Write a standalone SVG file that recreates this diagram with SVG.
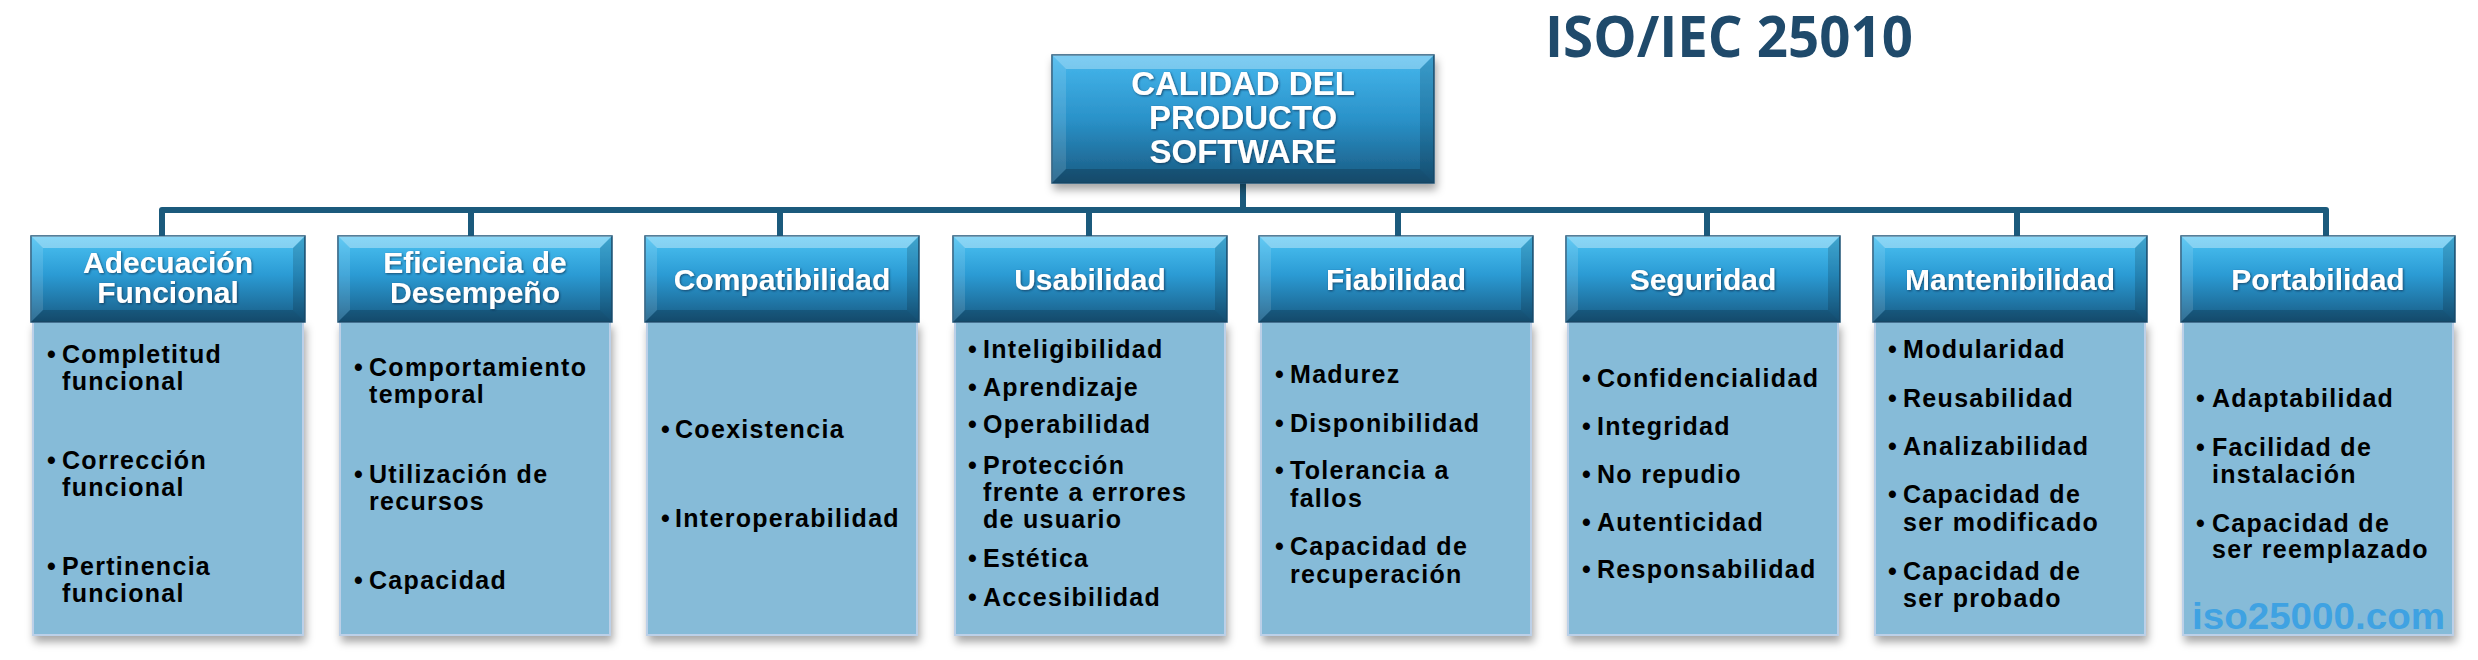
<svg xmlns="http://www.w3.org/2000/svg" width="2478" height="660" viewBox="0 0 2478 660">
<defs>
<linearGradient id="hg" x1="0" y1="0" x2="0" y2="1">
<stop offset="0" stop-color="#4cc3f3"/>
<stop offset="0.45" stop-color="#2b9bd4"/>
<stop offset="1" stop-color="#185b84"/>
</linearGradient>
<linearGradient id="tg" x1="0" y1="0" x2="0" y2="1">
<stop offset="0" stop-color="#46b8ee"/>
<stop offset="0.5" stop-color="#2a92c9"/>
<stop offset="1" stop-color="#1a5a82"/>
</linearGradient>
<filter id="sh" x="-10%" y="-10%" width="130%" height="130%">
<feDropShadow dx="2" dy="6" stdDeviation="4" flood-color="#000" flood-opacity="0.35"/>
</filter>
<filter id="ts" x="-10%" y="-20%" width="120%" height="150%">
<feDropShadow dx="1" dy="1" stdDeviation="1" flood-color="#0b2c47" flood-opacity="0.7"/>
</filter>
<g id="hdr">
<rect x="0" y="0" width="274" height="86" fill="url(#hg)" stroke="#1f5477" stroke-width="1.5"/>
<polygon points="0,0 274,0 262,12 12,12" fill="#ffffff" fill-opacity="0.35"/>
<polygon points="0,0 12,12 12,74 0,86" fill="#ffffff" fill-opacity="0.12"/>
<polygon points="274,0 262,12 262,74 274,86" fill="#000000" fill-opacity="0.15"/>
<polygon points="0,86 12,74 262,74 274,86" fill="#000000" fill-opacity="0.18"/>
</g>
</defs>
<style>
.ht{font-family:"Liberation Sans",Arial,sans-serif;font-weight:bold;font-size:30px;fill:#ffffff;text-anchor:middle}
.tt{font-family:"Liberation Sans",Arial,sans-serif;font-weight:bold;font-size:33px;fill:#ffffff;text-anchor:middle}
.it{font-family:"Liberation Sans",Arial,sans-serif;font-weight:bold;font-size:25px;fill:#000000;letter-spacing:1.3px}
.body{fill:#86bbd8;stroke:#bcd0e8;stroke-width:2}
.conn{fill:none;stroke:#1b5a7c;stroke-width:6;stroke-linejoin:round}
</style>
<rect width="2478" height="660" fill="#ffffff"/>
<text x="1545" y="57" font-family="'Open Sans','Liberation Sans',sans-serif" font-weight="bold" font-size="57" fill="#1f4a6b" textLength="368" lengthAdjust="spacingAndGlyphs">ISO/IEC 25010</text>
<g id="connectors">
<path class="conn" d="M1243,183 V210 M162,236 V210 H2326 V236 M471,210 V236 M780,210 V236 M1089,210 V236 M1398,210 V236 M1707,210 V236 M2017,210 V236"/>
</g>
<g id="root">
<g filter="url(#sh)">
<rect x="1052" y="55" width="382" height="128" fill="url(#tg)" stroke="#1f5477" stroke-width="1.5"/>
</g>
<polygon points="1052,55 1434,55 1420,69 1066,69" fill="#ffffff" fill-opacity="0.3"/>
<polygon points="1052,55 1066,69 1066,169 1052,183" fill="#ffffff" fill-opacity="0.12"/>
<polygon points="1434,55 1420,69 1420,169 1434,183" fill="#000000" fill-opacity="0.15"/>
<polygon points="1052,183 1066,169 1420,169 1434,183" fill="#000000" fill-opacity="0.18"/>
<g filter="url(#ts)">
<text class="tt" x="1243" y="95">CALIDAD DEL</text>
<text class="tt" x="1243" y="129">PRODUCTO</text>
<text class="tt" x="1243" y="163">SOFTWARE</text>
</g>
</g>
<g id="n1">
<rect class="body" x="33" y="322" width="270" height="313" filter="url(#sh)"/>
<use href="#hdr" x="31" y="236"/>
<g filter="url(#ts)"><text class="ht" x="168" y="273">Adecuación</text><text class="ht" x="168" y="303">Funcional</text></g>
<text class="it" x="47" y="363">•</text><text class="it" x="62" y="363">Completitud</text><text class="it" x="62" y="390">funcional</text>
<text class="it" x="47" y="469">•</text><text class="it" x="62" y="469">Corrección</text><text class="it" x="62" y="496">funcional</text>
<text class="it" x="47" y="575">•</text><text class="it" x="62" y="575">Pertinencia</text><text class="it" x="62" y="602">funcional</text>
</g>
<g id="n2">
<rect class="body" x="340" y="322" width="270" height="313" filter="url(#sh)"/>
<use href="#hdr" x="338" y="236"/>
<g filter="url(#ts)"><text class="ht" x="475" y="273">Eficiencia de</text><text class="ht" x="475" y="303">Desempeño</text></g>
<text class="it" x="354" y="376">•</text><text class="it" x="369" y="376">Comportamiento</text><text class="it" x="369" y="403">temporal</text>
<text class="it" x="354" y="483">•</text><text class="it" x="369" y="483">Utilización de</text><text class="it" x="369" y="510">recursos</text>
<text class="it" x="354" y="589">•</text><text class="it" x="369" y="589">Capacidad</text>
</g>
<g id="n3">
<rect class="body" x="647" y="322" width="270" height="313" filter="url(#sh)"/>
<use href="#hdr" x="645" y="236"/>
<g filter="url(#ts)"><text class="ht" x="782" y="290">Compatibilidad</text></g>
<text class="it" x="661" y="438">•</text><text class="it" x="675" y="438">Coexistencia</text>
<text class="it" x="661" y="527">•</text><text class="it" x="675" y="527">Interoperabilidad</text>
</g>
<g id="n4">
<rect class="body" x="955" y="322" width="270" height="313" filter="url(#sh)"/>
<use href="#hdr" x="953" y="236"/>
<g filter="url(#ts)"><text class="ht" x="1090" y="290">Usabilidad</text></g>
<text class="it" x="968" y="358">•</text><text class="it" x="983" y="358">Inteligibilidad</text>
<text class="it" x="968" y="396">•</text><text class="it" x="983" y="396">Aprendizaje</text>
<text class="it" x="968" y="433">•</text><text class="it" x="983" y="433">Operabilidad</text>
<text class="it" x="968" y="474">•</text><text class="it" x="983" y="474">Protección</text><text class="it" x="983" y="501">frente a errores</text><text class="it" x="983" y="528">de usuario</text>
<text class="it" x="968" y="567">•</text><text class="it" x="983" y="567">Estética</text>
<text class="it" x="968" y="606">•</text><text class="it" x="983" y="606">Accesibilidad</text>
</g>
<g id="n5">
<rect class="body" x="1261" y="322" width="270" height="313" filter="url(#sh)"/>
<use href="#hdr" x="1259" y="236"/>
<g filter="url(#ts)"><text class="ht" x="1396" y="290">Fiabilidad</text></g>
<text class="it" x="1275" y="383">•</text><text class="it" x="1290" y="383">Madurez</text>
<text class="it" x="1275" y="432">•</text><text class="it" x="1290" y="432">Disponibilidad</text>
<text class="it" x="1275" y="479">•</text><text class="it" x="1290" y="479">Tolerancia a</text><text class="it" x="1290" y="507">fallos</text>
<text class="it" x="1275" y="555">•</text><text class="it" x="1290" y="555">Capacidad de</text><text class="it" x="1290" y="583">recuperación</text>
</g>
<g id="n6">
<rect class="body" x="1568" y="322" width="270" height="313" filter="url(#sh)"/>
<use href="#hdr" x="1566" y="236"/>
<g filter="url(#ts)"><text class="ht" x="1703" y="290">Seguridad</text></g>
<text class="it" x="1582" y="387">•</text><text class="it" x="1597" y="387">Confidencialidad</text>
<text class="it" x="1582" y="435">•</text><text class="it" x="1597" y="435">Integridad</text>
<text class="it" x="1582" y="483">•</text><text class="it" x="1597" y="483">No repudio</text>
<text class="it" x="1582" y="531">•</text><text class="it" x="1597" y="531">Autenticidad</text>
<text class="it" x="1582" y="578">•</text><text class="it" x="1597" y="578">Responsabilidad</text>
</g>
<g id="n7">
<rect class="body" x="1875" y="322" width="270" height="313" filter="url(#sh)"/>
<use href="#hdr" x="1873" y="236"/>
<g filter="url(#ts)"><text class="ht" x="2010" y="290">Mantenibilidad</text></g>
<text class="it" x="1888" y="358">•</text><text class="it" x="1903" y="358">Modularidad</text>
<text class="it" x="1888" y="407">•</text><text class="it" x="1903" y="407">Reusabilidad</text>
<text class="it" x="1888" y="455">•</text><text class="it" x="1903" y="455">Analizabilidad</text>
<text class="it" x="1888" y="503">•</text><text class="it" x="1903" y="503">Capacidad de</text><text class="it" x="1903" y="531">ser modificado</text>
<text class="it" x="1888" y="580">•</text><text class="it" x="1903" y="580">Capacidad de</text><text class="it" x="1903" y="607">ser probado</text>
</g>
<g id="n8">
<rect class="body" x="2183" y="322" width="270" height="313" filter="url(#sh)"/>
<use href="#hdr" x="2181" y="236"/>
<g filter="url(#ts)"><text class="ht" x="2318" y="290">Portabilidad</text></g>
<text class="it" x="2196" y="407">•</text><text class="it" x="2212" y="407">Adaptabilidad</text>
<text class="it" x="2196" y="456">•</text><text class="it" x="2212" y="456">Facilidad de</text><text class="it" x="2212" y="483">instalación</text>
<text class="it" x="2196" y="532">•</text><text class="it" x="2212" y="532">Capacidad de</text><text class="it" x="2212" y="558">ser reemplazado</text>
<text x="2192" y="629" font-family="'Liberation Sans',Arial,sans-serif" font-weight="bold" font-size="36" fill="#3fa2e2" textLength="253" lengthAdjust="spacingAndGlyphs">iso25000.com</text>
</g>
</svg>
